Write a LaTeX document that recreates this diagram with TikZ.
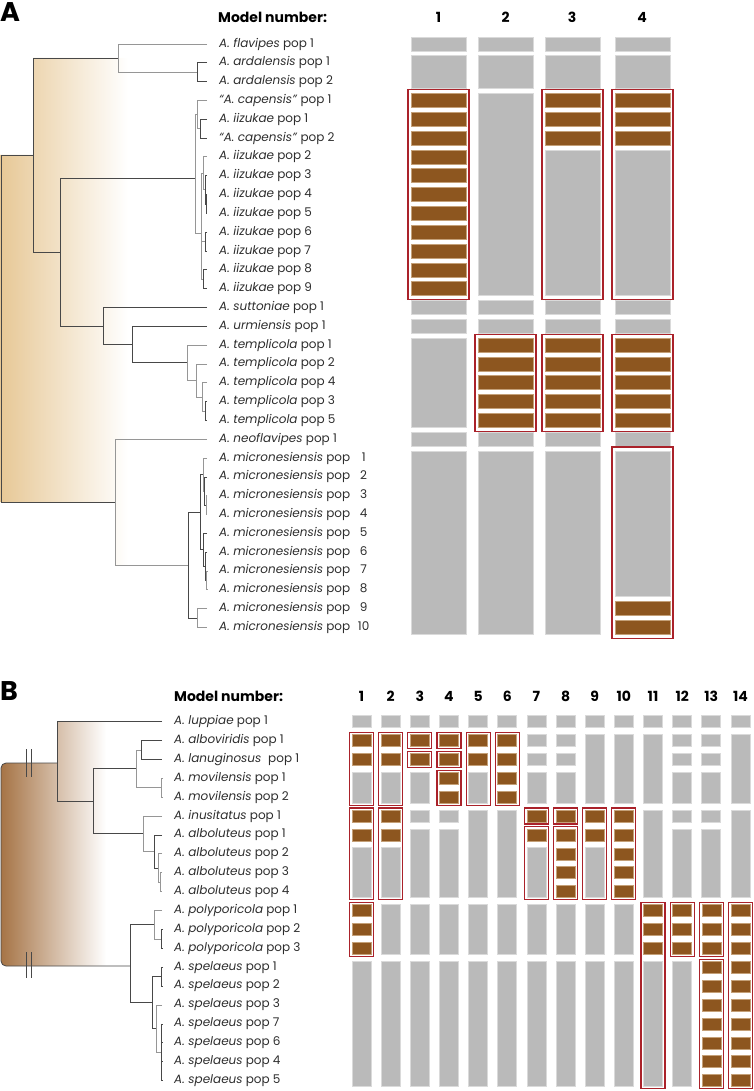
\documentclass[tikz,border=0pt]{standalone}
\usepackage{fontspec}
\setmainfont{Poppins}
\definecolor{barGray}{RGB}{186,186,186}
\definecolor{barEdge}{RGB}{218,218,218}
\definecolor{brownFill}{RGB}{141,86,31}
\definecolor{brownEdge}{RGB}{196,160,120}
\definecolor{boxRed}{RGB}{170,34,42}
\definecolor{tanL}{RGB}{231,200,150}
\definecolor{brownL}{RGB}{166,116,70}
\definecolor{treeDark}{RGB}{72,72,72}
\definecolor{treeLight}{RGB}{150,150,150}
\definecolor{txt}{RGB}{45,45,45}
\tikzset{
  gbar/.style={fill=barGray,draw=barEdge,line width=0.7pt},
  bbar/.style={fill=brownFill,draw=brownEdge,line width=0.6pt},
  rbox/.style={draw=boxRed,line width=1.1pt},
  tl/.style={draw=treeDark,line width=0.8pt},
  tlg/.style={draw=treeLight,line width=0.8pt},
  lab/.style={anchor=west,inner sep=0pt,text=txt,font=\fontsize{12}{14}\selectfont},
  hdr/.style={inner sep=0pt,text=black,font=\fontsize{14}{16}\selectfont\bfseries},
  panel/.style={anchor=west,inner sep=0pt,font=\fontsize{27}{27}\selectfont\bfseries}
}
% panel A helpers
\newcommand\Ax[1]{\ifcase#1\or 411\or 478\or 545\or 615\fi}
\newcommand\Ag[3]{\path[gbar] ({\Ax{#1}},{44+18.82*#2-7}) rectangle ({\Ax{#1}+55},{44+18.82*#3+7});}
\newcommand\Ab[2]{\foreach \rr in {#2}{\path[bbar] ({\Ax{#1}},{44+18.82*\rr-7}) rectangle ({\Ax{#1}+55},{44+18.82*\rr+7});}}
\newcommand\Ar[3]{\path[rbox] ({\Ax{#1}-3},{44+18.82*#2-11}) rectangle ({\Ax{#1}+58},{44+18.82*#3+11});}
% panel B helpers
\newcommand\Bg[3]{\path[gbar] ({352+29.15*(#1-1)},{721.5+18.9*#2-6}) rectangle ({352+29.15*(#1-1)+19},{721.5+18.9*#3+6});}
\newcommand\Bb[2]{\foreach \rr in {#2}{\path[bbar] ({352+29.15*(#1-1)},{721.5+18.9*\rr-6}) rectangle ({352+29.15*(#1-1)+19},{721.5+18.9*\rr+6});}}
\newcommand\Br[3]{\path[rbox] ({352+29.15*(#1-1)-2.5},{721.5+18.9*#2-8}) rectangle ({352+29.15*(#1-1)+21.5},{721.5+18.9*#3+8});}
% tree branch: node at x=#2, top child (y=#3, end x=#4), bottom child (y=#5, end x=#6)
\newcommand\br[6][tl]{\draw[#1] (#4,#3) -- (#2,#3) -- (#2,#5) -- (#6,#5);}
\begin{document}
\begin{tikzpicture}[x=1pt,y=-1pt]
\useasboundingbox (0,0) rectangle (753,1091);
% ================= PANEL A =================
\shade[left color=tanL,right color=white]
  (0,155) -- (33,155) -- (33,58) -- (128,58) -- (128,565) -- (115,565) -- (115,502) -- (0,502) -- cycle;
\node[panel] (pA) at (0,12) {A};
\node[hdr,anchor=west] (mnA) at (218,17) {Model number:};
\foreach \c/\x in {1/438.5,2/505.5,3/572,4/642}
  \node[hdr] (hA\c) at (\x,17) {\c};
% tree A
\br{1}{155}{33}{502}{115}
\br{33}{58}{118}{252}{60}
\br[tlg]{118}{44}{207}{72.2}{197}
\br{197}{62.8}{207}{81.6}{207}
\br{60}{178}{195}{326}{103}
\br[tlg]{195}{114.6}{197}{233}{201.7}
\br[tlg]{197}{100.5}{207}{128.7}{200}
\br{200}{119.3}{207}{138.1}{207}
\br[tlg]{201.7}{173.4}{203.3}{279.3}{203.3}
\draw[tlg] (201.7,241.6) -- (205.5,241.6);
\br[tlg]{203.3}{156.9}{207}{189.9}{205}
\br{205}{175.7}{207}{204}{206}
\br{206}{194.6}{207}{213.4}{207}
\br{205.5}{232.2}{207}{251.0}{207}
\br{203.3}{269.8}{207}{288.7}{207}
\br{103}{307.5}{207}{344.5}{132}
\br{132}{326.3}{207}{362.7}{187}
\br[tlg]{187}{345.1}{207}{380.4}{196}
\br[tlg]{196}{363.9}{207}{397}{202}
\br[tlg]{202}{382.8}{207}{411}{205}
\br{205}{401.6}{207}{420.4}{207}
\br[tlg]{115}{439.2}{207}{565}{188}
\br{188}{512}{200}{618}{197}
\br[tlg]{197}{608.6}{207}{627.4}{207}
\br{200}{474.5}{203}{549.8}{203}
\br[tlg]{203}{458}{207}{491.3}{204.5}
\br{204.5}{476.9}{207}{505.1}{206}
\br[tlg]{206}{495.7}{207}{514.5}{207}
\br{203}{533.3}{207}{566.2}{205}
\br{205}{552.1}{207}{580.4}{206.5}
\br[tlg]{206.5}{571}{207}{589.8}{207}
% labels A
\foreach \r/\s/\n in {0/A. flavipes/1,1/A. ardalensis/1,2/A. ardalensis/2,3/“A. capensis”/1,
  4/A. iizukae/1,5/“A. capensis”/2,6/A. iizukae/2,7/A. iizukae/3,8/A. iizukae/4,9/A. iizukae/5,
  10/A. iizukae/6,11/A. iizukae/7,12/A. iizukae/8,13/A. iizukae/9,14/A. suttoniae/1,15/A. urmiensis/1,
  16/A. templicola/1,17/A. templicola/2,18/A. templicola/4,19/A. templicola/3,20/A. templicola/5,
  21/A. neoflavipes/1}
  \node[lab] (la\r) at (219,{44+18.82*\r}) {\textit{\s} pop \n};
\foreach \n [evaluate=\n as \r using int(21+\n)] in {1,...,10}
  \node[lab] (la\r) at (219,{44+18.82*\r}) {\textit{A. micronesiensis} pop\hspace{6pt}\makebox[15pt][c]{\n}};
% bars A
\Ag{1}{0}{0}\Ag{1}{1}{2}\Ab{1}{3,...,13}\Ar{1}{3}{13}
\Ag{1}{14}{14}\Ag{1}{15}{15}\Ag{1}{16}{20}\Ag{1}{21}{21}\Ag{1}{22}{31}
\Ag{2}{0}{0}\Ag{2}{1}{2}\Ag{2}{3}{13}
\Ag{2}{14}{14}\Ag{2}{15}{15}\Ab{2}{16,...,20}\Ar{2}{16}{20}\Ag{2}{21}{21}\Ag{2}{22}{31}
\Ag{3}{0}{0}\Ag{3}{1}{2}\Ab{3}{3,4,5}\Ag{3}{6}{13}\Ar{3}{3}{13}
\Ag{3}{14}{14}\Ag{3}{15}{15}\Ab{3}{16,...,20}\Ar{3}{16}{20}\Ag{3}{21}{21}\Ag{3}{22}{31}
\Ag{4}{0}{0}\Ag{4}{1}{2}\Ab{4}{3,4,5}\Ag{4}{6}{13}\Ar{4}{3}{13}
\Ag{4}{14}{14}\Ag{4}{15}{15}\Ab{4}{16,...,20}\Ar{4}{16}{20}\Ag{4}{21}{21}
\Ag{4}{22}{29}\Ab{4}{30,31}\Ar{4}{22}{31}
% ================= PANEL B =================
\shade[left color=brownL,right color=white]
  (57,722) -- (106,722) -- (106,966) [rounded corners=5pt] -- (1,966) -- (1,763) [sharp corners] -- (57,763) -- cycle;
\node[panel] (pB) at (0,691) {B};
\node[hdr,anchor=west] (mnB) at (174,696) {Model number:};
\foreach \c in {1,...,14}
  \node[hdr] (hB\c) at ({352+29.15*(\c-1)+9.5},696) {\c};
% tree B
\draw[tl,rounded corners=5pt] (57,763) -- (1,763) -- (1,966) -- (130,966);
\draw[tl] (26,749) -- (26,777) (31,749) -- (31,777) (26,952) -- (26,978) (31,952) -- (31,978);
\br{57}{721.5}{162}{801.2}{93}
\br{93}{768.8}{136}{833.7}{143}
\br[tlg]{136}{749.9}{141}{787.6}{161}
\br{141}{740.4}{162}{759.3}{162}
\br[tlg]{161}{778.2}{163}{797.1}{163}
\br[tlg]{143}{816}{162}{851.5}{154}
\br{154}{834.9}{162}{868}{158}
\br[tlg]{158}{853.8}{162}{882.2}{160}
\br[tlg]{160}{872.7}{162}{891.6}{162}
\br{130}{924.7}{154}{1002.6}{152}
\br[tlg]{154}{910.5}{162}{938.9}{161}
\br{161}{929.4}{163}{948.3}{163}
\br{152}{976.7}{161}{1028.6}{156}
\br{161}{967.2}{163}{986.1}{163}
\br[tlg]{156}{1005}{162}{1052.3}{161}
\draw[tl] (161,1023.9) -- (161,1080.6);
\foreach \y in {1023.9,1042.8,1061.7,1080.6} \draw[tl] (161,\y) -- (163,\y);
% labels B
\foreach \r/\s/\n in {0/A. luppiae/1,1/A. alboviridis/1,2/A. lanuginosus\ /1,3/A. movilensis/1,
  4/A. movilensis/2,5/A. inusitatus/1,6/A. alboluteus/1,7/A. alboluteus/2,8/A. alboluteus/3,
  9/A. alboluteus/4,10/A. polyporicola/1,11/A. polyporicola/2,12/A. polyporicola/3,
  13/A. spelaeus/1,14/A. spelaeus/2,15/A. spelaeus/3,16/A. spelaeus/7,17/A. spelaeus/6,
  18/A. spelaeus/4,19/A. spelaeus/5}
  \node[lab] (lb\r) at (174,{721.5+18.9*\r}) {\textit{\s} pop \n};
% bars B
\Bg{1}{0}{0}\Bb{1}{1,2}\Bg{1}{3}{4}\Br{1}{1}{4}\Bb{1}{5,6}\Bg{1}{7}{9}\Br{1}{5}{9}\Bb{1}{10,11,12}\Br{1}{10}{12}\Bg{1}{13}{19}
\Bg{2}{0}{0}\Bb{2}{1,2}\Bg{2}{3}{4}\Br{2}{1}{4}\Bb{2}{5,6}\Bg{2}{7}{9}\Br{2}{5}{9}\Bg{2}{10}{12}\Bg{2}{13}{19}
\Bg{3}{0}{0}\Bb{3}{1}\Br{3}{1}{1}\Bb{3}{2}\Br{3}{2}{2}\Bg{3}{3}{4}\Bg{3}{5}{5}\Bg{3}{6}{9}\Bg{3}{10}{12}\Bg{3}{13}{19}
\Bg{4}{0}{0}\Bb{4}{1}\Br{4}{1}{1}\Bb{4}{2}\Br{4}{2}{2}\Bb{4}{3,4}\Br{4}{3}{4}\Bg{4}{5}{5}\Bg{4}{6}{9}\Bg{4}{10}{12}\Bg{4}{13}{19}
\Bg{5}{0}{0}\Bb{5}{1,2}\Bg{5}{3}{4}\Br{5}{1}{4}\Bg{5}{5}{9}\Bg{5}{10}{12}\Bg{5}{13}{19}
\Bg{6}{0}{0}\Bb{6}{1,2,3,4}\Br{6}{1}{4}\Bg{6}{5}{9}\Bg{6}{10}{12}\Bg{6}{13}{19}
\Bg{7}{0}{0}\Bg{7}{1}{1}\Bg{7}{2}{2}\Bg{7}{3}{4}\Bb{7}{5}\Br{7}{5}{5}\Bb{7}{6}\Bg{7}{7}{9}\Br{7}{6}{9}\Bg{7}{10}{12}\Bg{7}{13}{19}
\Bg{8}{0}{0}\Bg{8}{1}{1}\Bg{8}{2}{2}\Bg{8}{3}{4}\Bb{8}{5}\Br{8}{5}{5}\Bb{8}{6,7,8,9}\Br{8}{6}{9}\Bg{8}{10}{12}\Bg{8}{13}{19}
\Bg{9}{0}{0}\Bg{9}{1}{4}\Bb{9}{5,6}\Bg{9}{7}{9}\Br{9}{5}{9}\Bg{9}{10}{12}\Bg{9}{13}{19}
\Bg{10}{0}{0}\Bg{10}{1}{4}\Bb{10}{5,6,7,8,9}\Br{10}{5}{9}\Bg{10}{10}{12}\Bg{10}{13}{19}
\Bg{11}{0}{0}\Bg{11}{1}{4}\Bg{11}{5}{9}\Bb{11}{10,11,12}\Bg{11}{13}{19}\Br{11}{10}{19}
\Bg{12}{0}{0}\Bg{12}{1}{1}\Bg{12}{2}{2}\Bg{12}{3}{4}\Bg{12}{5}{5}\Bg{12}{6}{9}\Bb{12}{10,11,12}\Br{12}{10}{12}\Bg{12}{13}{19}
\Bg{13}{0}{0}\Bg{13}{1}{1}\Bg{13}{2}{2}\Bg{13}{3}{4}\Bg{13}{5}{5}\Bg{13}{6}{9}\Bb{13}{10,11,12}\Br{13}{10}{12}\Bb{13}{13,...,19}\Br{13}{13}{19}
\Bg{14}{0}{0}\Bg{14}{1}{4}\Bg{14}{5}{9}\Bb{14}{10,...,19}\Br{14}{10}{19}
\end{tikzpicture}
\end{document}
